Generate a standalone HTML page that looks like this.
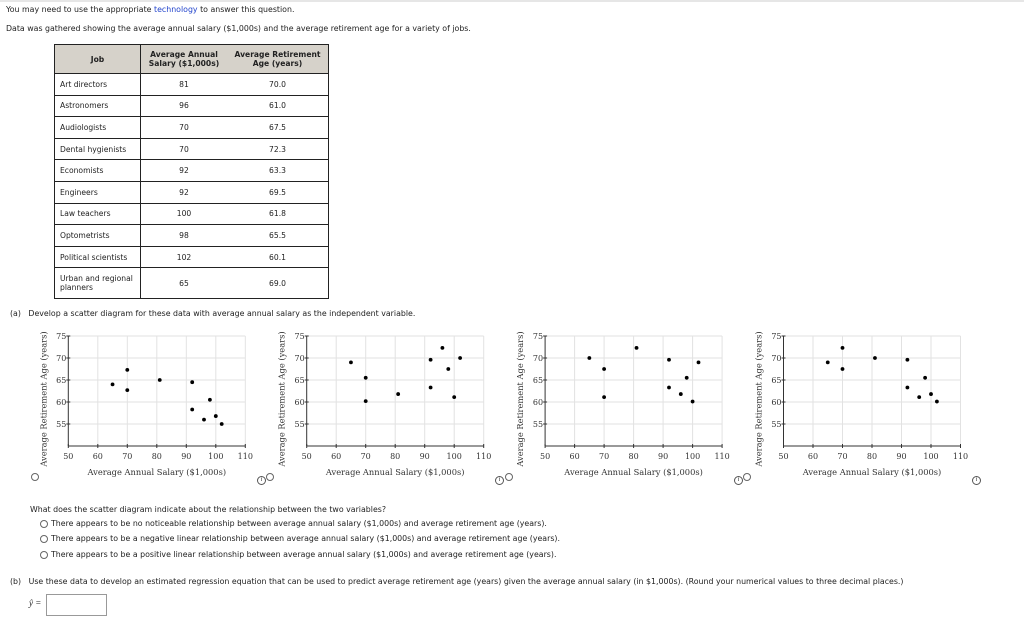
<!DOCTYPE html>
<html><head><meta charset="utf-8"><style>
body{margin:0;width:1024px;height:634px;background:#fff;font-family:"DejaVu Sans","Liberation Sans",sans-serif;font-size:7.85px;color:#222;position:relative;overflow:hidden}
.a{position:absolute;white-space:nowrap}
table{position:absolute;left:54px;top:44px;border-collapse:collapse;font-size:7.6px}
td,th{border:1px solid #222;border-left:none;border-right:none;padding:0 5px}
th{background:#d6d2ca;font-weight:bold;height:28px;text-align:center}
td{height:20.6px}
td.c{text-align:center}
.rad{position:absolute;width:6px;height:6px;border:1px solid #666;border-radius:50%}
.info{position:absolute;width:7px;height:7px;border:1px solid #555;border-radius:50%;font-size:6px;text-align:center;line-height:7px;font-style:italic;font-family:"Liberation Serif",serif}
</style></head><body>
<div class="a" style="left:0;top:0;width:1024px;height:2px;background:#e6e6e6"></div>
<div class="a" style="left:6px;top:5px">You may need to use the appropriate <span style="color:#2244cc">technology</span> to answer this question.</div>
<div class="a" style="left:6px;top:24px">Data was gathered showing the average annual salary ($1,000s) and the average retirement age for a variety of jobs.</div>
<table style="border-left:1px solid #222;border-right:1px solid #222">
<tr><th style="width:75px;border-right:1px solid #222">Job</th><th style="width:76px">Average Annual<br>Salary ($1,000s)</th><th style="width:91px">Average Retirement<br>Age (years)</th></tr>
<tr><td style="border-right:1px solid #222">Art directors</td><td class="c">81</td><td class="c">70.0</td></tr>
<tr><td style="border-right:1px solid #222">Astronomers</td><td class="c">96</td><td class="c">61.0</td></tr>
<tr><td style="border-right:1px solid #222">Audiologists</td><td class="c">70</td><td class="c">67.5</td></tr>
<tr><td style="border-right:1px solid #222">Dental hygienists</td><td class="c">70</td><td class="c">72.3</td></tr>
<tr><td style="border-right:1px solid #222">Economists</td><td class="c">92</td><td class="c">63.3</td></tr>
<tr><td style="border-right:1px solid #222">Engineers</td><td class="c">92</td><td class="c">69.5</td></tr>
<tr><td style="border-right:1px solid #222">Law teachers</td><td class="c">100</td><td class="c">61.8</td></tr>
<tr><td style="border-right:1px solid #222">Optometrists</td><td class="c">98</td><td class="c">65.5</td></tr>
<tr><td style="border-right:1px solid #222">Political scientists</td><td class="c">102</td><td class="c">60.1</td></tr>
<tr><td style="border-right:1px solid #222;height:30px;line-height:9px">Urban and regional<br>planners</td><td class="c">65</td><td class="c">69.0</td></tr>
</table>
<div class="a" style="left:10px;top:309px">(a)&nbsp;&nbsp; Develop a scatter diagram for these data with average annual salary as the independent variable.</div>
<svg id="charts" width="1024" height="180" style="position:absolute;left:0;top:320px"></svg>
<div class="rad" style="left:31px;top:473px"></div>
<div class="rad" style="left:266px;top:473px"></div>
<div class="rad" style="left:505px;top:473px"></div>
<div class="rad" style="left:743px;top:473px"></div>
<div class="info" style="left:257px;top:476px">i</div>
<div class="info" style="left:495px;top:476px">i</div>
<div class="info" style="left:734px;top:476px">i</div>
<div class="info" style="left:972px;top:476px">i</div>
<div class="a" style="left:30px;top:505px">What does the scatter diagram indicate about the relationship between the two variables?</div>
<div class="rad" style="left:40px;top:520px"></div>
<div class="a" style="left:51px;top:519px">There appears to be no noticeable relationship between average annual salary ($1,000s) and average retirement age (years).</div>
<div class="rad" style="left:40px;top:535px"></div>
<div class="a" style="left:51px;top:534px">There appears to be a negative linear relationship between average annual salary ($1,000s) and average retirement age (years).</div>
<div class="rad" style="left:40px;top:551px"></div>
<div class="a" style="left:51px;top:550px">There appears to be a positive linear relationship between average annual salary ($1,000s) and average retirement age (years).</div>
<div class="a" style="left:10px;top:577px">(b)&nbsp;&nbsp; Use these data to develop an estimated regression equation that can be used to predict average retirement age (years) given the average annual salary (in $1,000s). (Round your numerical values to three decimal places.)</div>
<div class="a" style="left:29px;top:598px;font-family:'Liberation Serif',serif;font-style:italic;font-size:9px">ŷ =</div>
<div class="a" style="left:46px;top:594px;width:59px;height:20px;border:1px solid #999"></div>
<script>
const xTicks=[50,60,70,80,90,100,110];
const yTicks=[55,60,65,70,75];
const salaries=[65,70,70,81,92,92,96,98,100,102];
const ages1=[64,67.3,62.7,65,64.5,58.3,56,60.5,56.8,55];
const salaries2=[65,70,70,81,92,92,96,98,100,102];
const ages2=[69,65.5,60.2,61.8,69.6,63.3,72.3,67.5,61.1,70];
const salaries3=[65,70,70,81,92,92,96,98,100,102];
const ages3=[70,67.5,61.1,72.3,69.6,63.3,61.8,65.5,60.1,69];
const salaries4=[65,70,70,81,92,92,96,98,100,102];
const ages4=[69,72.3,67.5,70,69.6,63.3,61.1,65.5,61.8,60.1];
const NS="http://www.w3.org/2000/svg";
const svg=document.getElementById('charts');
function mk(t,a,p){const e=document.createElementNS(NS,t);for(const k in a)e.setAttribute(k,a[k]);(p||svg).appendChild(e);return e;}
const sets=[[salaries,ages1],[salaries2,ages2],[salaries3,ages3],[salaries4,ages4]];
sets.forEach((s,i)=>{
  const x0=68.3+i*238.4, w=177;
  const X=v=>x0+(v-50)/60*w;
  const Y=v=>126-(v-50)*4.4;
  const g=mk('g',{});
  
  
  xTicks.forEach(t=>{
    if(t>50){const l=mk('line',{x1:X(t),x2:X(t),y1:Y(75),y2:Y(50),stroke:'#e2e2e2','stroke-width':1},g);
    }
    const tk=mk('line',{x1:X(t),x2:X(t),y1:Y(50)-2,y2:Y(50)+2,stroke:'#333'},g);
    
    const tx=mk('text',{x:X(t),y:Y(50)+13,'text-anchor':'middle','font-size':8,'font-family':'DejaVu Serif,Liberation Serif,serif',fill:'#333'},g);
    tx.textContent=t;
  });
  yTicks.forEach(t=>{
    const l=mk('line',{x1:X(50),x2:X(110),y1:Y(t),y2:Y(t),stroke:'#e2e2e2'},g);
    
    const tk=mk('line',{x1:X(50)-2,x2:X(50)+2,y1:Y(t),y2:Y(t),stroke:'#333'},g);
    
    const tx=mk('text',{x:X(50)-2,y:Y(t)+3,'text-anchor':'end','font-size':8,'font-family':'DejaVu Serif,Liberation Serif,serif',fill:'#333'},g);
    tx.textContent=t;
  });
  const ax=mk('line',{x1:X(50),x2:X(110),y1:Y(50),y2:Y(50),stroke:'#333'},g);
  
  const ay=mk('line',{x1:X(50),x2:X(50),y1:Y(75),y2:Y(50),stroke:'#333'},g);
  
  const xt=mk('text',{x:X(80),y:155,'text-anchor':'middle','font-size':8.3,'font-family':'DejaVu Serif,Liberation Serif,serif',fill:'#333'},g);
  xt.textContent='Average Annual Salary ($1,000s)';
  const yt=mk('text',{transform:`translate(${x0-22},${Y(62.5)+8}) rotate(-90)`,'text-anchor':'middle','font-size':8.3,'font-family':'DejaVu Serif,Liberation Serif,serif',fill:'#333'},g);
  yt.textContent='Average Retirement Age (years)';
  s[0].forEach((v,j)=>{
    const c=mk('circle',{cx:X(v),cy:Y(s[1][j]),r:1.9,fill:'#000'},g);
    
    
  });
});
</script>
</body></html>
